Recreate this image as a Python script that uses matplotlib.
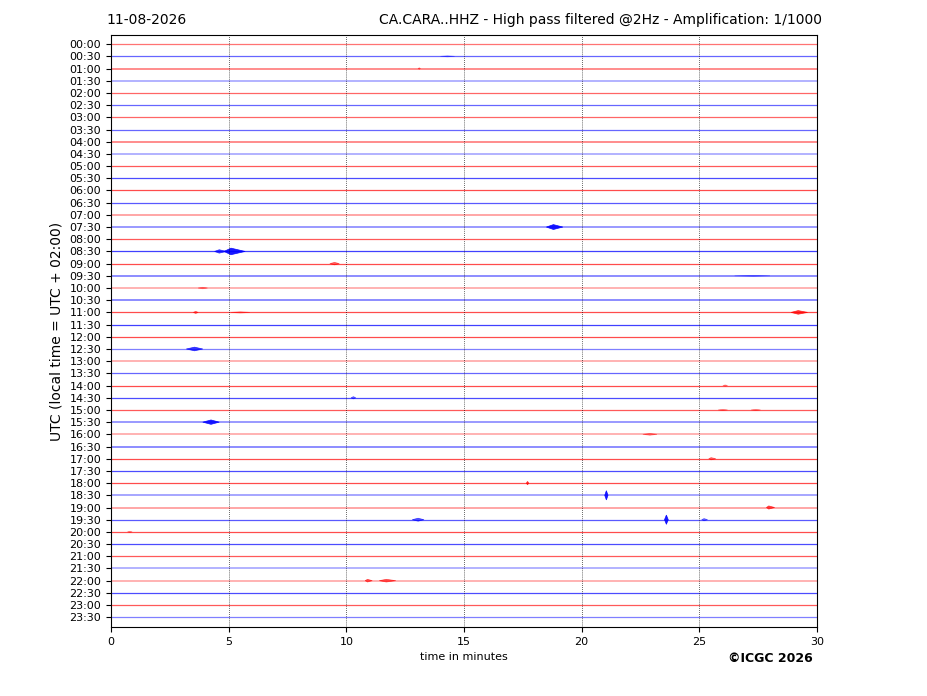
import matplotlib
matplotlib.use("Agg")
import matplotlib.pyplot as plt

# ---------------- data ----------------
date_label = "11-08-2026"
title_label = "CA.CARA..HHZ - High pass filtered @2Hz - Amplification: 1/1000"
row_labels = [f"{h:02d}:{m:02d}" for h in range(24) for m in (0, 30)]
x_ticks = [0, 5, 10, 15, 20, 25, 30]

# perceived trace strength per row (noise level makes some rows look paler)
row_strength = [0.55, 0.6, 0.45, 0.3, 0.6, 0.6, 0.6, 0.6, 0.45, 0.3,
                0.65, 0.7, 0.7, 0.65, 0.35, 0.4, 0.65, 0.75, 0.7, 0.45,
                0.3, 0.45, 0.7, 0.75, 0.7, 0.5, 0.3, 0.6, 0.7, 0.7,
                0.65, 0.4, 0.3, 0.45, 0.7, 0.7, 0.7, 0.35, 0.35, 0.65,
                0.7, 0.7, 0.65, 0.3, 0.3, 0.7, 0.65, 0.5]

# events: row index, start minute, peak minute, end minute, amplitude (row units)
ev_row   = [15, 17, 17, 18, 22, 22, 22, 25, 29, 31, 32, 34, 36, 37, 38, 39, 39, 39, 44, 44, 40, 1, 2, 19, 20, 28, 30, 30]
ev_start = [18.5, 4.4, 4.8, 9.3, 3.5, 5.1, 28.9, 3.2, 10.2, 3.9, 22.6, 25.4, 17.65, 20.98, 27.85, 12.8, 23.52, 25.1, 10.8, 11.4, 0.7, 14.0, 13.05, 26.5, 3.7, 26.0, 25.8, 27.2]
ev_peak  = [18.8, 4.6, 5.1, 9.5, 3.6, 5.5, 29.2, 3.55, 10.3, 4.25, 22.9, 25.5, 17.7, 21.05, 27.95, 13.05, 23.6, 25.2, 10.9, 11.7, 0.8, 14.3, 13.1, 27.3, 3.9, 26.1, 26.0, 27.4]
ev_end   = [19.2, 4.9, 5.7, 9.7, 3.7, 5.9, 29.6, 3.9, 10.4, 4.6, 23.2, 25.7, 17.75, 21.12, 28.2, 13.3, 23.68, 25.35, 11.1, 12.1, 0.9, 14.6, 13.15, 28.0, 4.1, 26.2, 26.2, 27.6]
ev_amp   = [0.2, 0.14, 0.27, 0.1, 0.09, 0.05, 0.15, 0.15, 0.09, 0.18, 0.07, 0.09, 0.14, 0.38, 0.13, 0.12, 0.38, 0.09, 0.11, 0.11, 0.05, 0.04, 0.06, 0.04, 0.06, 0.05, 0.05, 0.05]

# ---------------- figure ----------------
fig = plt.figure(figsize=(9.27, 6.96), dpi=100)
ax = fig.add_axes([111/927, 1-627/696, (817-111)/927, (627-35)/696])

n = len(row_labels)
for i in range(n):
    col = "#ff0000" if i % 2 == 0 else "#0000ff"
    s = row_strength[i]
    lw = 0.9 if s >= 0.5 else 1.4
    ax.hlines(i, 0, 30, color=col, lw=lw, alpha=s)

for r, a, p, b, amp in zip(ev_row, ev_start, ev_peak, ev_end, ev_amp):
    col = "#ff0000" if r % 2 == 0 else "#0000ff"
    al = min(0.9, 0.25 + amp * 3.5)
    ax.fill([a, p, b, p], [r, r - amp, r, r + amp], color=col, lw=0.5,
            edgecolor=col, alpha=al)

for xv in x_ticks[1:-1]:
    ax.axvline(xv, color="black", lw=0.6, ls=(0, (1, 1.5)), alpha=0.8)

ax.set_xlim(0, 30)
ax.set_ylim(47.8, -0.75)
ax.set_yticks(range(n))
ax.set_yticklabels(row_labels, fontsize=8)
ax.set_xticks(x_ticks)
ax.set_xticklabels([str(v) for v in x_ticks], fontsize=8)
ax.set_xlabel("time in minutes", fontsize=8)
ax.set_ylabel("UTC (local time = UTC + 02:00)", fontsize=10)

fig.text(106/927, 1-20/696, date_label, fontsize=10, ha="left", va="center")
fig.text(822/927, 1-20/696, title_label, fontsize=10, ha="right", va="center")
fig.text(770/927, 1-658/696, "\u00a9ICGC 2026", fontsize=9, fontweight="bold",
         ha="center", va="center")

fig.savefig("out.png", dpi=100)
